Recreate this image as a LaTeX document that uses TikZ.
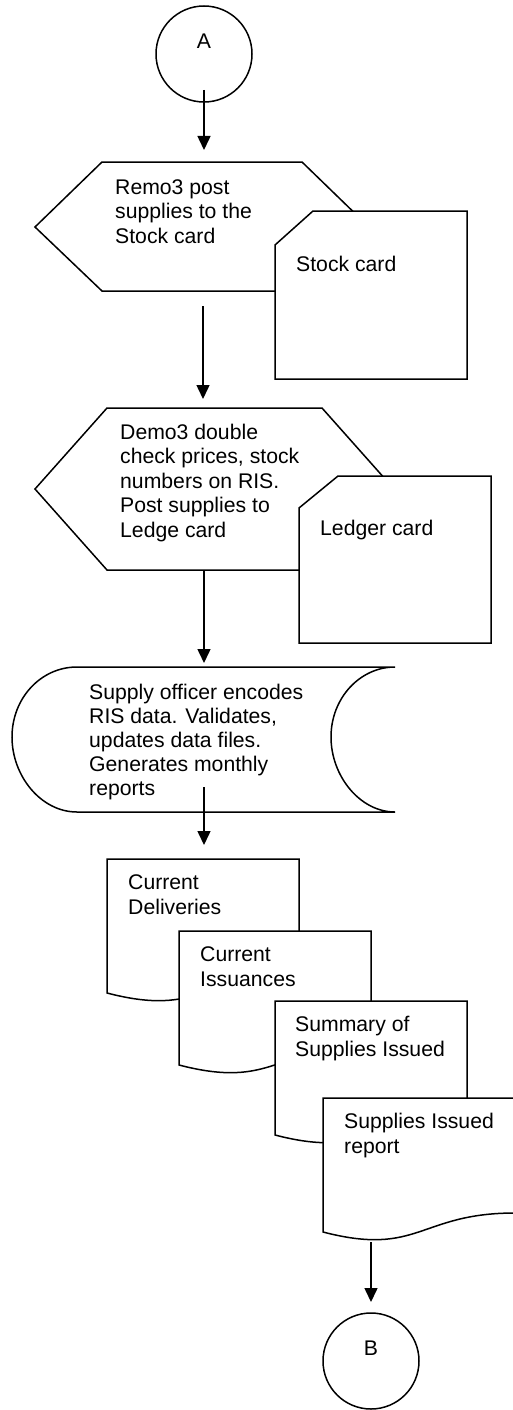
\documentclass[tikz,border=0pt]{standalone}
\usepackage{fontspec}
\setmainfont{Liberation Sans}
\usepackage{tikz}
\usetikzlibrary{arrows.meta, positioning, calc}

\begin{document}
\begin{tikzpicture}[
    x=1pt, y=-1pt,
    font=\fontsize{21.2pt}{24.5pt}\selectfont,
    >={Triangle[length=14pt, width=13pt]},
    shp/.style={draw, line width=1.5pt, fill=white, line join=miter},
    txt/.style={anchor=base west, inner sep=0pt, align=left},
    conn/.style={draw, circle, line width=1.5pt, minimum size=96pt, inner sep=0pt, text height=15pt, text depth=26pt},
    line/.style={->, line width=1.5pt}
]
\useasboundingbox (0,0) rectangle (513,1410);

% Connector A
\node[conn] (conA) at (204,54) {A};

% Remo3 posting (preparation) + stock card
\draw[shp] (35,227) -- (102,162) -- (302,162) -- (369,227) -- (302,291) -- (102,291) -- cycle;
\node[txt] (post) at (115,243) {Remo3 post\\supplies to the\\Stock card};
\draw[shp] (313,211) -- (467,211) -- (467,379) -- (275,379) -- (275,245) -- cycle;
\node[txt] (stock) at (296,271) {Stock card};

% Demo3 checking + ledger card
\draw[shp] (35,489) -- (107,408) -- (322,408) -- (394,489) -- (322,570) -- (107,570) -- cycle;
\node[txt] (check) at (120,537) {Demo3 double\\check prices, stock\\numbers on RIS.\\Post supplies to\\Ledge card};
\draw[shp] (338,476) -- (491,476) -- (491,643) -- (299,643) -- (299,508) -- cycle;
\node[txt] (ledger) at (320,535) {Ledger card};

% Stored data (supply officer)
\draw[shp] (77,667) -- (395,667)
    .. controls (360,667) and (331,698) .. (331,737)
    .. controls (331,776) and (360,812) .. (395,812)
    -- (77,812)
    .. controls (41,812) and (12,776) .. (12,737)
    .. controls (12,698) and (41,667) .. (77,667) -- cycle;
\node[txt, font=\fontsize{21.2pt}{24pt}\selectfont] (encode) at (89,795) {Supply officer encodes\\RIS data. Validates,\\updates data files.\\Generates monthly\\reports};

% Reports (stacked documents)
\draw[shp] (107,859) -- (299,859) -- (299,974) .. controls (203,974) and (203,1018) .. (107,993) -- cycle;
\node[txt] (deliv) at (128,914) {Current\\Deliveries};
\draw[shp] (179,931) -- (371,931) -- (371,1046) .. controls (275,1046) and (275,1090) .. (179,1065) -- cycle;
\node[txt] (issu) at (200,986) {Current\\Issuances};
\draw[shp] (275,1001) -- (467,1001) -- (467,1116) .. controls (371,1116) and (371,1160) .. (275,1135) -- cycle;
\node[txt] (summ) at (295,1056) {Summary of\\Supplies Issued};
\draw[shp] (323,1098) -- (515,1098) -- (515,1213) .. controls (419,1213) and (419,1257) .. (323,1232) -- cycle;
\node[txt] (report) at (344,1153) {Supplies Issued\\report};

% Connector B
\node[conn] (conB) at (371,1361) {B};

% Connections
\coordinate (aOut) at (204,90);
\coordinate (postIn) at (204,150);
\coordinate (postOut) at (203,306);
\coordinate (checkIn) at (203,399);
\coordinate (checkOut) at (204,570);
\coordinate (encodeIn) at (204,663);
\coordinate (encodeOut) at (204,787);
\coordinate (delivIn) at (204,845);
\coordinate (reportOut) at (371,1242);
\coordinate (bIn) at (371,1302);

\draw[line] (aOut) -- (postIn);
\draw[line] (postOut) -- (checkIn);
\draw[line] (checkOut) -- (encodeIn);
\draw[line] (encodeOut) -- (delivIn);
\draw[line] (reportOut) -- (bIn);

\end{tikzpicture}
\end{document}
